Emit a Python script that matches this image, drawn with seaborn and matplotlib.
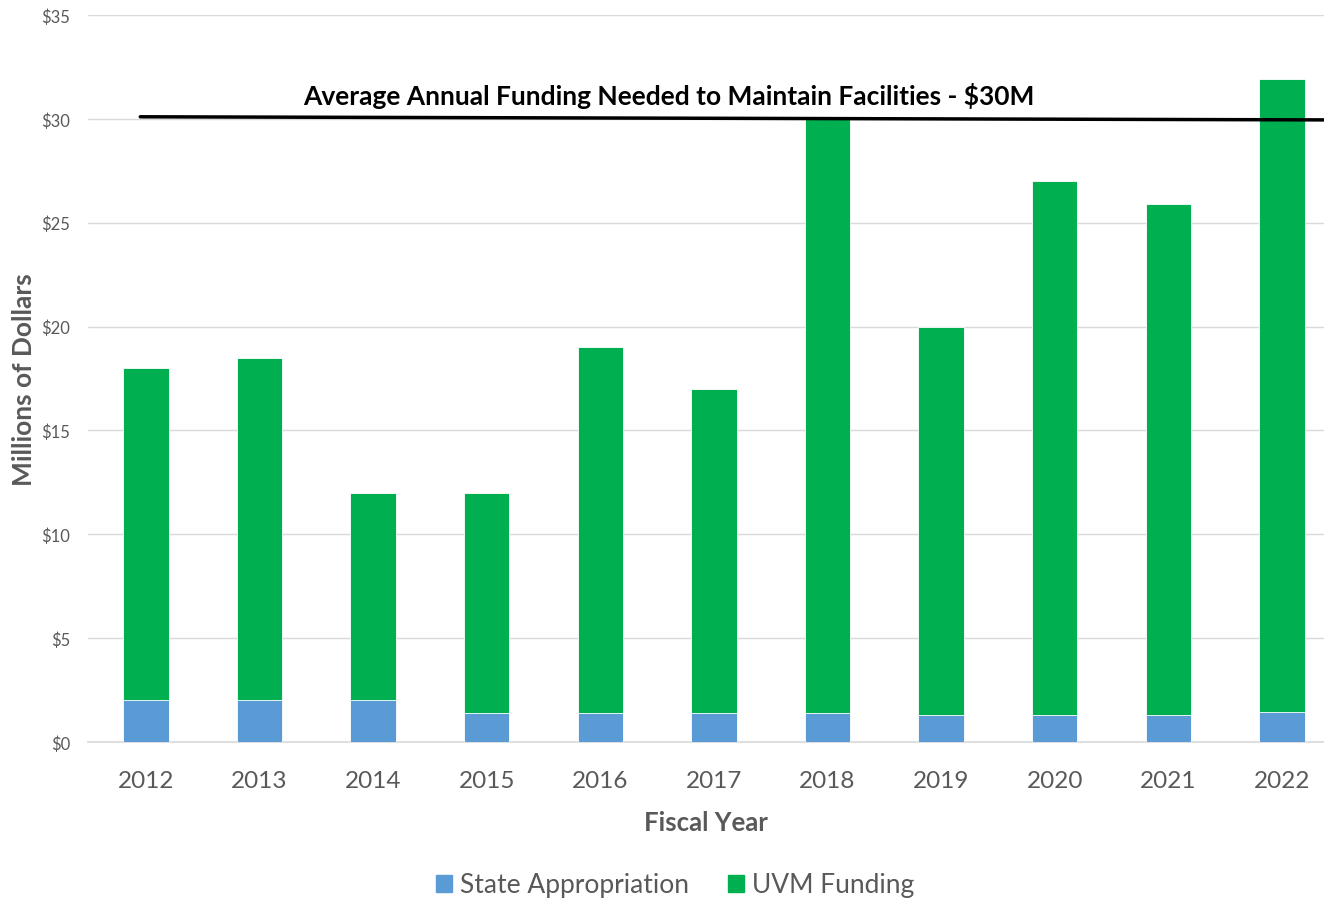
import matplotlib
matplotlib.use('Agg')
import matplotlib.pyplot as plt
import seaborn as sns
import pandas as pd
from matplotlib.patches import Patch

# Данные (млн долларов)
years = ['2012', '2013', '2014', '2015', '2016', '2017', '2018', '2019', '2020', '2021', '2022']
state_appropriation = [2.0, 2.0, 2.0, 1.4, 1.4, 1.4, 1.4, 1.3, 1.3, 1.3, 1.45]
uvm_funding = [16.0, 16.5, 10.0, 10.6, 17.6, 15.6, 28.6, 18.7, 25.7, 24.6, 30.45]
needed_level = [30.1, 29.95]  # линия "нужно в среднем", слегка наклонена как в оригинале
needed_label = r'Average Annual Funding Needed to Maintain Facilities - \$30M'

blue = '#5B9BD5'
green = '#00B050'
grey = '#595959'

df = pd.DataFrame({'year': years, 'state': state_appropriation, 'uvm': uvm_funding})
df['total'] = df['state'] + df['uvm']

sns.set_style('white')
plt.rcParams['font.family'] = ['Lato', 'DejaVu Sans']

fig = plt.figure(figsize=(13.24, 9.03), dpi=100)
ax = fig.add_axes([88 / 1324, 1 - 743 / 903, (1324 - 88) / 1324, (743 - 16) / 903])

# Стек: сначала общая высота зелёным, потом синий снизу
sns.barplot(x='year', y='total', data=df, color=green, width=0.4, saturation=1, ax=ax, zorder=2)
sns.barplot(x='year', y='state', data=df, color=blue, width=0.4, saturation=1, ax=ax, zorder=3)
for p in ax.patches:
    p.set_edgecolor('white')
    p.set_linewidth(0.6)

ax.set_xlim(-0.51, 10.37)
ax.set_ylim(0, 35)
ax.set_yticks(range(0, 36, 5))
ax.set_yticklabels([r'\$' + str(v) for v in range(0, 36, 5)], color=grey, fontsize=12)
ax.tick_params(axis='x', labelsize=17.5, colors=grey, pad=20, length=0)
ax.tick_params(axis='y', length=0, pad=13)

ax.grid(axis='y', color='#D9D9D9', linewidth=1, zorder=0)
ax.set_axisbelow(True)
for s in ['top', 'right', 'left']:
    ax.spines[s].set_visible(False)
ax.spines['bottom'].set_color('#D9D9D9')
ax.spines['bottom'].set_linewidth(1.2)

# Линия требуемого финансирования
ax.plot([-0.05, 10.37], needed_level, color='black', linewidth=2.5, zorder=4, clip_on=False)
ax.text(4.6, 31.15, needed_label, ha='center', va='center', fontsize=19,
        fontweight='bold', color='black')

ax.set_xlabel('Fiscal Year', fontsize=18.5, fontweight='bold', color=grey, labelpad=14)
ax.set_ylabel('Millions of Dollars', fontsize=19, fontweight='bold', color=grey, labelpad=4)

handles = [Patch(color=blue, label='State Appropriation'), Patch(color=green, label='UVM Funding')]
fig.legend(handles=handles, loc='center', bbox_to_anchor=(0.51, 1 - 886 / 903), ncol=2, frameon=False,
           fontsize=19, labelcolor=grey, handlelength=0.6, handleheight=0.6, columnspacing=1.5,
           handletextpad=0.3)

fig.savefig('out.png', dpi=100)
